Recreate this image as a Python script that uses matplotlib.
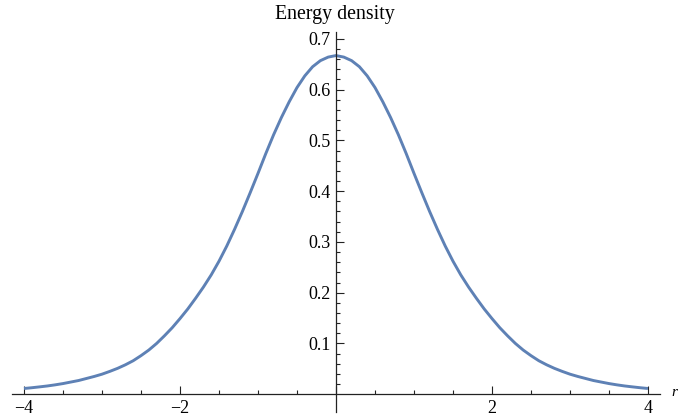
import numpy as np
import matplotlib
matplotlib.use('Agg')
import matplotlib.pyplot as plt
from matplotlib.ticker import FixedLocator, FixedFormatter

# curve, r >= 0 half (curve is symmetric), step 0.1
r_half = [0.0, 0.1, 0.2, 0.3, 0.4, 0.5, 0.6, 0.7, 0.8, 0.9,
          1.0, 1.1, 1.2, 1.3, 1.4, 1.5, 1.6, 1.7, 1.8, 1.9,
          2.0, 2.1, 2.2, 2.3, 2.4, 2.5, 2.6, 2.7, 2.8, 2.9,
          3.0, 3.1, 3.2, 3.3, 3.4, 3.5, 3.6, 3.7, 3.8, 3.9, 4.0]
e_half = [0.667, 0.664, 0.657, 0.645, 0.627, 0.604, 0.576, 0.545, 0.511, 0.474,
          0.435, 0.397, 0.360, 0.325, 0.292, 0.262, 0.235, 0.211, 0.189, 0.168,
          0.149, 0.131, 0.115, 0.100, 0.087, 0.076, 0.066, 0.058, 0.051, 0.045,
          0.0395, 0.035, 0.031, 0.027, 0.024, 0.021, 0.0185, 0.0163, 0.0145,
          0.0128, 0.0113]

r_vals = [-v for v in r_half[:0:-1]] + r_half
e_vals = e_half[:0:-1] + e_half

x_major = [-4, -2, 0, 2, 4]
x_labels = ['\u22124', '\u22122', '', '2', '4']
x_minor = [-3.5, -3, -2.5, -1.5, -1, -0.5, 0.5, 1, 1.5, 2.5, 3, 3.5]
y_major = [0.1, 0.2, 0.3, 0.4, 0.5, 0.6, 0.7]
y_labels = ['0.1', '0.2', '0.3', '0.4', '0.5', '0.6', '0.7']

LINE = '#5e81b5'
AXC = '#222222'
FONT = 'Liberation Serif'

fig = plt.figure(figsize=(6.8, 4.2), dpi=100)
ax = fig.add_axes([12 / 680, 8 / 420, 648 / 680, 380.3 / 420])

ax.plot(r_vals, e_vals, color=LINE, lw=2.1, solid_joinstyle='round',
        solid_capstyle='butt')

ax.set_xlim(-4.154, 4.154)
ax.set_ylim(-0.035, 0.714)

for s in ['top', 'right']:
    ax.spines[s].set_visible(False)
ax.spines['left'].set_position(('data', 0))
ax.spines['bottom'].set_position(('data', 0))
for s in ['left', 'bottom']:
    ax.spines[s].set_color(AXC)
    ax.spines[s].set_linewidth(0.9)

ax.xaxis.set_major_locator(FixedLocator(x_major))
ax.xaxis.set_major_formatter(FixedFormatter(x_labels))
ax.xaxis.set_minor_locator(FixedLocator(x_minor))
ax.yaxis.set_major_locator(FixedLocator(y_major))
ax.yaxis.set_major_formatter(FixedFormatter(y_labels))
ax.yaxis.set_minor_locator(FixedLocator(
    [round(0.02 * i, 2) for i in range(1, 36) if i % 5 != 0]))

ax.tick_params(which='both', direction='in', color=AXC, width=0.8,
               labelsize=13, labelcolor='black')
ax.tick_params(which='major', length=5.5, pad=4)
ax.tick_params(which='minor', length=3)
for lab in ax.get_xticklabels() + ax.get_yticklabels():
    lab.set_family(FONT)

fig.text(335 / 680, 1 - 15 / 420, 'Energy density', family=FONT,
         fontsize=14.3, ha='center', va='center')
fig.text(671 / 680, 1 - 392 / 420, 'r', family=FONT, style='italic',
         fontsize=11, ha='left', va='center')

fig.savefig('out.png', dpi=100)
